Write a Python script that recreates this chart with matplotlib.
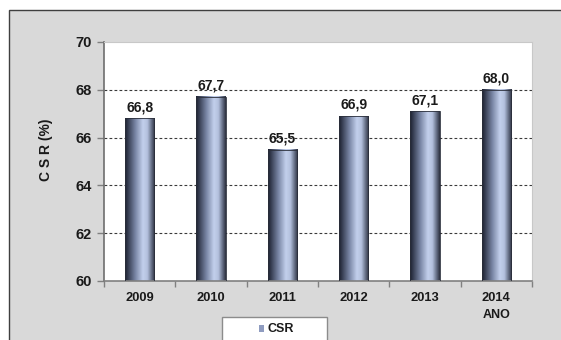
import matplotlib

matplotlib.use("Agg")
import matplotlib.pyplot as plt
import numpy as np
from matplotlib.colors import LinearSegmentedColormap
from matplotlib.patches import Rectangle

YEARS = ["2009", "2010", "2011", "2012", "2013", "2014"]
CSR = [66.8, 67.7, 65.5, 66.9, 67.1, 68.0]
Y_TICKS = [60, 62, 64, 66, 68, 70]
GRID_LEVELS = [62, 64, 66, 68]

INK = "#1A1A1A"
PANEL = "#D9D9D9"
PANEL_EDGE = "#3F3F3F"
AXIS = "#808080"
GRID = "#3A3A3A"

# cylinder-like shading across each bar, dark edges and a light blue core
BAR_SHADE = LinearSegmentedColormap.from_list(
    "bar_shade",
    [
        (0.00, "#1B1F2E"),
        (0.12, "#3A4257"),
        (0.35, "#7A87A6"),
        (0.60, "#C3D0EC"),
        (0.75, "#B3C0DD"),
        (0.90, "#5F687E"),
        (1.00, "#2B2F3D"),
    ],
)

plt.rcParams.update(
    {
        "font.family": ["Liberation Sans", "DejaVu Sans"],
        "font.weight": "bold",
        "text.color": INK,
        "xtick.color": AXIS,
        "ytick.color": AXIS,
        "xtick.labelcolor": INK,
        "ytick.labelcolor": INK,
    }
)

W, H = 561, 340
fig = plt.figure(figsize=(W / 100, H / 100), dpi=100)
fig.patch.set_facecolor("white")

# grey chart panel, running off the right and bottom edges
fig.patches.append(
    Rectangle(
        (9 / W, -0.05),
        1.2,
        1.05 - 10 / H,
        transform=fig.transFigure,
        facecolor=PANEL,
        edgecolor=PANEL_EDGE,
        linewidth=1.0,
        zorder=-2,
    )
)

ax = fig.add_axes([104 / W, 1 - 281 / H, (532 - 104) / W, (281 - 42) / H])
ax.set_zorder(1)
ax.set_facecolor("white")

for level in GRID_LEVELS:
    ax.axhline(level, color=GRID, linewidth=0.8, linestyle=(0, (2.5, 2.0)), zorder=1)

width = 0.41
shade = np.linspace(0, 1, 256).reshape(1, -1)
for i, v in enumerate(CSR):
    ax.imshow(
        shade,
        cmap=BAR_SHADE,
        aspect="auto",
        interpolation="bilinear",
        extent=(i - width / 2, i + width / 2, Y_TICKS[0], v),
        zorder=2,
    )
    ax.add_patch(
        Rectangle((i - width / 2, Y_TICKS[0]), width, v - Y_TICKS[0],
                  facecolor="none", edgecolor="#2A2E3A", linewidth=0.6, zorder=3)
    )
    ax.annotate(
        f"{v:.1f}".replace(".", ","),
        (i, v),
        xytext=(0, 3),
        textcoords="offset points",
        ha="center",
        va="bottom",
        fontsize=10,
        fontweight="bold",
        zorder=4,
    )
ax.set_xlim(-0.5, len(YEARS) - 0.5)
ax.set_ylim(Y_TICKS[0], Y_TICKS[-1])

ax.set_yticks(Y_TICKS)
ax.set_yticklabels([str(t) for t in Y_TICKS], fontsize=10.5, fontweight="bold")
ax.tick_params(axis="y", length=5, width=1.0, pad=4)

ax.set_xticks(range(len(YEARS)))
ax.set_xticklabels(YEARS, fontsize=9.3, fontweight="bold")
ax.set_xticks(np.arange(-0.5, len(YEARS)), minor=True)
ax.tick_params(axis="x", which="major", length=0, pad=8)
ax.tick_params(axis="x", which="minor", length=4, width=1.0)

ax.spines["left"].set_color("#6E6E6E")
ax.spines["left"].set_linewidth(1.2)
ax.spines["bottom"].set_color(AXIS)
ax.spines["bottom"].set_linewidth(1.2)
ax.spines["top"].set_color("#C8C8C8")
ax.spines["right"].set_color("#C8C8C8")
ax.spines["top"].set_linewidth(0.8)
ax.spines["right"].set_linewidth(0.8)

fig.text(46 / W, 1 - 150 / H, "C S R (%)", rotation=90, ha="center", va="center",
         fontsize=10, fontweight="bold")
fig.text(497 / W, 1 - 315 / H, "ANO", ha="center", va="center",
         fontsize=9, fontweight="bold")

# legend box, cut off by the lower edge
fig.patches.append(
    Rectangle((222 / W, -0.05), (327 - 222) / W, 0.05 + 1 - 317 / H,
              transform=fig.transFigure, facecolor="white", edgecolor="#8C8C8C",
              linewidth=1.0, zorder=1)
)
fig.patches.append(
    Rectangle((259 / W, 1 - 332 / H), 5 / W, 7 / H, transform=fig.transFigure,
              facecolor="#8F9CC0", edgecolor="none", zorder=2)
)
fig.text(267 / W, 1 - 329 / H, "CSR", ha="left", va="center", fontsize=9,
         fontweight="bold", zorder=3)

fig.savefig("out.png", dpi=100)
